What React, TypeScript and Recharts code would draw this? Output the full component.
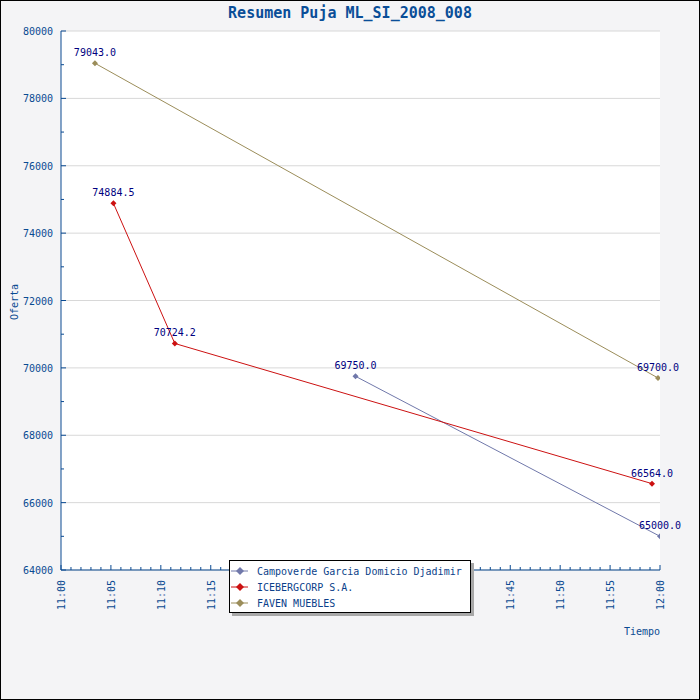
import { LineChart, Line, XAxis, YAxis, CartesianGrid, Legend, LabelList } from 'recharts'

// minutes after 11:00 and bid values
const campoverdeTimes = [29.5, 60]
const campoverdeBids = [69750, 65000]
const icebergTimes = [5.25, 11.4, 59.2]
const icebergBids = [74884.5, 70724.2, 66564]
const favenTimes = [3.4, 59.8]
const favenBids = [79043, 69700]

const minuteTicks = [
  0, 1, 2, 3, 4, 5, 6, 7, 8, 9, 10, 11, 12, 13, 14, 15, 16, 17, 18, 19, 20, 21, 22, 23, 24, 25, 26, 27, 28, 29, 30,
  31, 32, 33, 34, 35, 36, 37, 38, 39, 40, 41, 42, 43, 44, 45, 46, 47, 48, 49, 50, 51, 52, 53, 54, 55, 56, 57, 58, 59, 60,
]
const bidTicks = [
  64000, 65000, 66000, 67000, 68000, 69000, 70000, 71000, 72000, 73000, 74000, 75000, 76000, 77000, 78000, 79000, 80000,
]
const gridValues = [64000, 66000, 68000, 70000, 72000, 74000, 76000, 78000, 80000]

const FONT = '"DejaVu Sans Mono", monospace'
const AXIS = '#0a4a92'
const LABEL = '#000080'

const series = [
  { name: 'Campoverde Garcia Domicio Djadimir', color: '#7078aa', times: campoverdeTimes, bids: campoverdeBids },
  { name: 'ICEBERGCORP S.A.', color: '#cc1111', times: icebergTimes, bids: icebergBids },
  { name: 'FAVEN MUEBLES', color: '#9b8d5a', times: favenTimes, bids: favenBids },
]

const toRows = (times: number[], bids: number[]) => times.map((t, i) => ({ t, v: bids[i] }))

function timeLabel(m: number) {
  if (m === 60) return '12:00'
  return `11:${String(m).padStart(2, '0')}`
}

function TimeTick({ x, y, payload }: any) {
  const m = payload.value as number
  const major = m % 5 === 0
  return (
    <g>
      <line x1={x} x2={x} y1={y} y2={y - (major ? 5 : 3)} stroke={AXIS} />
      {major && (
        <text
          transform={`translate(${x + 4},${y + 10}) rotate(-90)`}
          textAnchor="end"
          fill={AXIS}
          fontFamily={FONT}
          fontSize={10}
        >
          {timeLabel(m)}
        </text>
      )}
    </g>
  )
}

function BidTick({ x, y, payload }: any) {
  const v = payload.value as number
  const major = v % 2000 === 0
  return (
    <g>
      <line x1={x} x2={x + (major ? 5 : 3)} y1={y} y2={y} stroke={AXIS} />
      {major && (
        <text x={x - 8} y={y + 4} textAnchor="end" fill={AXIS} fontFamily={FONT} fontSize={10}>
          {v}
        </text>
      )}
    </g>
  )
}

function Diamond({ cx, cy, r, color }: { cx: number; cy: number; r: number; color: string }) {
  return <path d={`M${cx},${cy - r}L${cx + r},${cy}L${cx},${cy + r}L${cx - r},${cy}Z`} fill={color} />
}

function ValueLabel(props: any) {
  const x = props.x ?? props.viewBox?.x
  const y = props.y ?? props.viewBox?.y
  return (
    <text x={x} y={y - 7} textAnchor="middle" fill={LABEL} fontFamily={FONT} fontSize={10}>
      {Number(props.value).toFixed(1)}
    </text>
  )
}

function LegendBox() {
  return (
    <div
      style={{
        boxSizing: 'border-box',
        width: 242,
        height: 53,
        background: '#fff',
        border: '1px solid #000',
        boxShadow: '3px 3px 0 #a8a8a8',
        paddingTop: 2,
      }}
    >
      {series.map((s) => (
        <div key={s.name} style={{ display: 'flex', alignItems: 'center', height: 16 }}>
          <svg width={27} height={16} style={{ flex: 'none' }}>
            <line x1={1} x2={18} y1={8} y2={8} stroke={s.color} />
            <Diamond cx={10} cy={8} r={4} color={s.color} />
          </svg>
          <span style={{ fontFamily: FONT, fontSize: 10, color: '#0b3f8a', whiteSpace: 'nowrap' }}>{s.name}</span>
        </div>
      ))}
    </div>
  )
}

export default function App() {
  return (
    <div style={{ position: 'absolute', left: 0, top: 0, width: 700, height: 700, background: '#f4f4f6' }}>
      <div style={{ position: 'absolute', left: 0, top: 0 }}>
        <LineChart width={700} height={700} margin={{ top: 31, right: 40, bottom: 90, left: 0 }}>
          <CartesianGrid vertical={false} stroke="#d8d8d8" fill="#ffffff" horizontalValues={gridValues} />
          <XAxis
            type="number"
            dataKey="t"
            domain={[0, 60]}
            ticks={minuteTicks}
            interval={0}
            height={40}
            tickSize={0}
            tickMargin={0}
            tickLine={false}
            tick={<TimeTick />}
            axisLine={{ stroke: AXIS }}
            allowDataOverflow
          />
          <YAxis
            type="number"
            domain={[64000, 80000]}
            ticks={bidTicks}
            interval={0}
            width={61}
            tickSize={0}
            tickMargin={0}
            tickLine={false}
            tick={<BidTick />}
            axisLine={{ stroke: AXIS }}
          />
          {series.map((s) => (
            <Line
              key={s.name}
              name={s.name}
              data={toRows(s.times, s.bids)}
              dataKey="v"
              stroke={s.color}
              strokeWidth={1}
              isAnimationActive={false}
              dot={(p: any) => <Diamond key={`${s.name}-${p.index}`} cx={p.cx} cy={p.cy} r={3} color={s.color} />}
              activeDot={false}
            >
              <LabelList dataKey="v" content={<ValueLabel />} />
            </Line>
          ))}
          <Legend
            layout="vertical"
            verticalAlign="middle"
            align="center"
            content={() => <LegendBox />}
            wrapperStyle={{ position: 'absolute', left: 229, top: 560, bottom: 'auto', width: 242, height: 53 }}
          />
        </LineChart>
      </div>
      <svg width={700} height={700} style={{ position: 'absolute', left: 0, top: 0, pointerEvents: 'none' }}>
        <text x={350} y={18} textAnchor="middle" fill="#0a4e98" fontFamily={FONT} fontWeight="bold" fontSize={15}>
          Resumen Puja ML_SI_2008_008
        </text>
        <text transform="translate(18,302) rotate(-90)" textAnchor="middle" fill={AXIS} fontFamily={FONT} fontSize={10}>
          Oferta
        </text>
        <text x={660} y={635} textAnchor="end" fill={AXIS} fontFamily={FONT} fontSize={10}>
          Tiempo
        </text>
        <rect x={0.5} y={0.5} width={699} height={699} fill="none" stroke="#000" />
      </svg>
    </div>
  )
}
